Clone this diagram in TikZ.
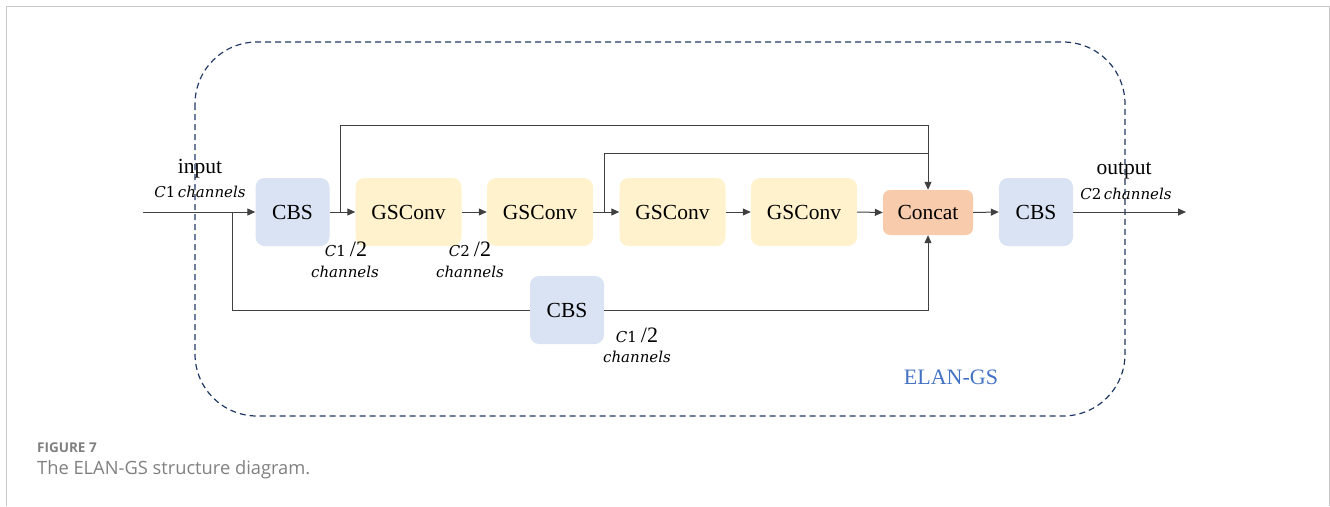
\documentclass[tikz,border=0pt]{standalone}
\usepackage{fontspec}
\setmainfont{Liberation Serif}
\newfontfamily\chfont{DejaVu Serif}
\newfontfamily\capfont{Open Sans}
\usetikzlibrary{arrows.meta,positioning}
\definecolor{cbsblue}{HTML}{DAE3F3}
\definecolor{gsyellow}{HTML}{FFF2CC}
\definecolor{catorange}{HTML}{F8CBAD}
\definecolor{framenavy}{HTML}{1F3864}
\definecolor{elanblue}{HTML}{4472C4}
\definecolor{wire}{HTML}{404040}
\definecolor{capgray}{HTML}{808080}
\definecolor{rulegray}{HTML}{C8C8C8}
\newcommand{\chtext}[1]{{\chfont\itshape\fontsize{15}{18}\selectfont #1}}
\newcommand{\halfch}[1]{{\chfont\itshape\fontsize{15}{18}\selectfont C}{\chfont\fontsize{15}{18}\selectfont #1}\hspace{4pt}{\fontsize{22}{24}\selectfont /2}}
\tikzset{
  block/.style={rounded corners=9pt, minimum height=68pt, inner sep=0pt,
    font=\fontsize{21.5}{24}\selectfont},
  cbsbox/.style={block, fill=cbsblue, minimum width=74pt},
  gsbox/.style={block, fill=gsyellow, minimum width=106pt},
  catbox/.style={block, fill=catorange, minimum width=90pt, minimum height=45pt, rounded corners=7pt},
  wireline/.style={draw=wire, line width=1pt},
  arr/.style={wireline, -{Triangle[length=8pt,width=7pt]}},
  lbl/.style={inner sep=0pt, anchor=center},
}
\begin{document}
\begin{tikzpicture}[x=1pt,y=-1pt]
\useasboundingbox (0,0) rectangle (1330,506);
% outer page rules
\draw[rulegray, line width=1pt] (6,506) -- (6,6) -- (1329,6) -- (1329,506);
% dashed module frame
\draw[framenavy, line width=1.2pt, dash pattern=on 6pt off 4pt, rounded corners=62pt]
  (195,42) rectangle (1125,416);
% blocks
\node[cbsbox] (cbsin) at (292.5,212) {CBS};
\node[gsbox] (gs1) at (408.5,212) {GSConv};
\node[gsbox] (gs2) at (540,212) {GSConv};
\node[gsbox] (gs3) at (672.5,212) {GSConv};
\node[gsbox] (gs4) at (804,212) {GSConv};
\node[catbox] (cat) at (928,212.5) {Concat};
\node[cbsbox] (cbsout) at (1036,212) {CBS};
\node[cbsbox] (cbsb) at (567,310) {CBS};
% free ends and branch points
\coordinate (inp) at (143,212);
\coordinate (outp) at (1186,212);
\coordinate (br0) at (232,212);
\coordinate (br1) at (340,212);
\coordinate (br2) at (604,212);
% main chain
\draw[arr] (inp) -- (cbsin.west);
\draw[arr] (cbsin.east) -- (gs1.west);
\draw[arr] (gs1.east) -- (gs2.west);
\draw[arr] (gs2.east) -- (gs3.west);
\draw[arr] (gs3.east) -- (gs4.west);
\draw[arr] (gs4.east) -- (cat.west);
\draw[arr] (cat.east) -- (cbsout.west);
\draw[arr] (cbsout.east) -- (outp);
% skip connections into Concat
\draw[arr] (br1) -- (340,125) -| (cat.north);
\draw[wireline] (br2) -- (604,153) -- (cat.north |- 0,153);
\draw[wireline] (br0) |- (cbsb.west);
\draw[arr] (cbsb.east) -| (cat.south);
% labels
\node[lbl] (tin) at (200,169) {\fontsize{21.5}{24}\selectfont input};
\node[lbl] (cin) at (200,192) {\chtext{C}{\chfont\fontsize{15}{18}\selectfont 1} \chtext{channels}};
\node[lbl] (tout) at (1124,171) {\fontsize{21.5}{24}\selectfont output};
\node[lbl] (cout) at (1126,194) {\chtext{C}{\chfont\fontsize{15}{18}\selectfont 2} \chtext{channels}};
\node[lbl] (h1) at (346,249) {\halfch{1}};
\node[lbl] (h1c) at (345,272) {\chtext{channels}};
\node[lbl] (h2) at (470,249) {\halfch{2}};
\node[lbl] (h2c) at (470,272) {\chtext{channels}};
\node[lbl] (h3) at (637,335) {\halfch{1}};
\node[lbl] (h3c) at (637,357) {\chtext{channels}};
\node[lbl, text=elanblue] (elan) at (951,377) {\fontsize{22}{24}\selectfont ELAN-GS};
% caption
\node[anchor=west, inner sep=0pt, text=capgray] (fig) at (37,448)
  {\capfont\fontsize{13.5}{15}\selectfont\bfseries FIGURE 7};
\node[anchor=west, inner sep=0pt, text=capgray] (cap) at (37,470)
  {\capfont\fontsize{18.3}{21}\selectfont The ELAN-GS structure diagram.};
\end{tikzpicture}
\end{document}
